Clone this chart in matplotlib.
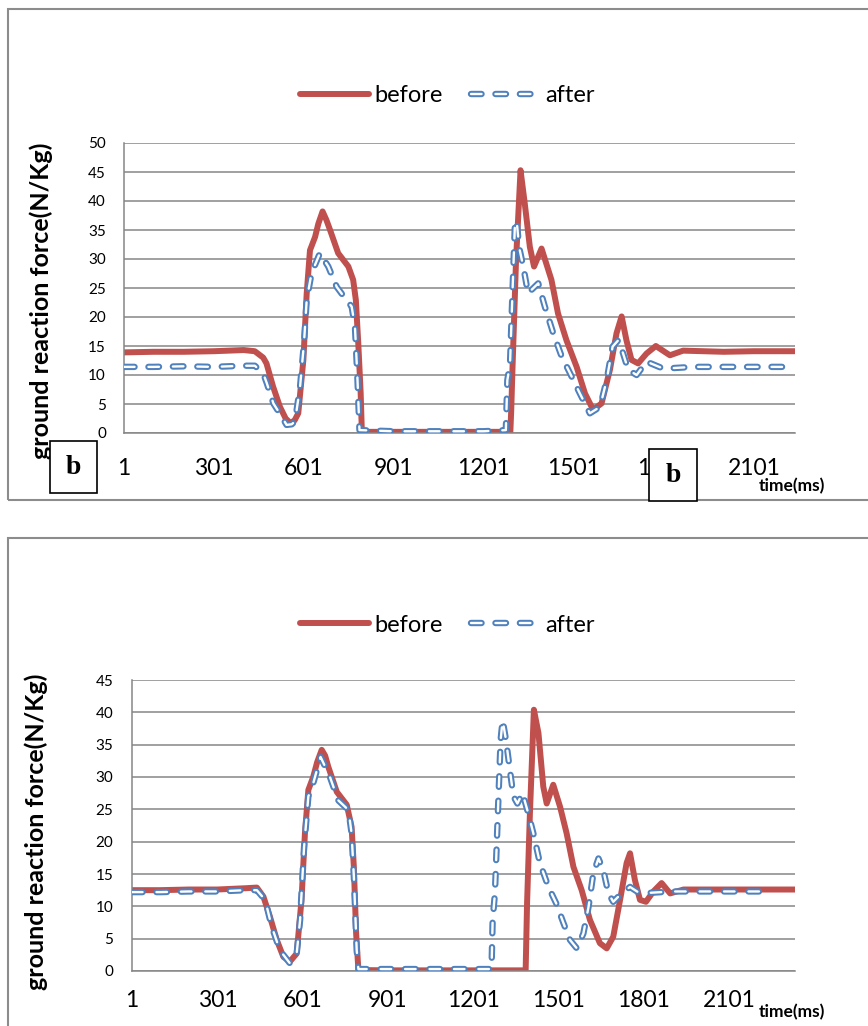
import matplotlib
matplotlib.use("Agg")
import matplotlib.pyplot as plt
from matplotlib.patches import Rectangle
from matplotlib.legend_handler import HandlerTuple

plt.rcParams['font.family'] = ['Lato', 'DejaVu Sans']
plt.rcParams['lines.scale_dashes'] = False

# ---------------- data ----------------
x_tick_values = [1, 301, 601, 901, 1201, 1501, 1801, 2101]
x_tick_labels = [str(v) for v in x_tick_values]
series_labels = ["before", "after"]

# Panel 1 (upper)
p1_n = 2238
p1_before_t = [1, 100, 200, 300, 400, 437, 465, 476, 498, 521, 540, 556, 570, 582, 599, 610, 621, 638, 649,
               663, 676, 688, 715, 749, 765, 774, 782, 790, 794, 900, 1000, 1100, 1200, 1289, 1292, 1296,
               1308, 1323, 1337, 1354, 1368, 1393, 1426, 1448, 1476, 1510, 1538, 1565, 1593, 1621, 1643,
               1660, 1676, 1693, 1715, 1743, 1774, 1821, 1865, 2000, 2100, 2237]
p1_before_v = [13.9, 14.0, 14.0, 14.1, 14.3, 14.1, 13.0, 12.0, 8.0, 4.5, 2.5, 1.7, 2.2, 3.4, 12.6, 24.0,
               31.5, 33.8, 36.1, 38.2, 36.7, 35.0, 31.0, 28.7, 26.4, 22.9, 15.5, 6.9, 0.2, 0.2, 0.2, 0.2,
               0.2, 0.2, 4.0, 10.9, 29.8, 45.3, 39.6, 32.1, 28.7, 31.8, 26.4, 20.6, 16.0, 11.4, 6.8, 4.0,
               5.1, 10.9, 17.2, 20.1, 16.0, 12.6, 12.0, 13.7, 15.0, 13.4, 14.2, 14.0, 14.1, 14.1]
p1_after_t = [1, 100, 200, 300, 400, 437, 465, 477, 499, 527, 543, 560, 571, 588, 601, 610, 626, 654, 682,
              710, 743, 760, 771, 779, 786, 900, 1000, 1100, 1200, 1274, 1279, 1288, 1296, 1304, 1310, 1318,
              1332, 1348, 1382, 1404, 1432, 1460, 1488, 1521, 1554, 1588, 1610, 1630, 1649, 1665, 1682, 1710,
              1743, 1799, 1900, 2000, 2100, 2230]
p1_after_v = [11.4, 11.4, 11.5, 11.4, 11.6, 11.6, 10.3, 8.6, 5.1, 2.8, 1.4, 1.5, 2.0, 8.0, 15.5, 22.9, 27.5,
              31.0, 28.7, 25.2, 22.9, 21.8, 18.3, 9.7, 0.5, 0.3, 0.3, 0.3, 0.3, 0.5, 9.1, 12.0, 24.1, 35.6,
              36.7, 32.1, 28.7, 24.1, 25.8, 21.8, 17.2, 13.2, 10.3, 6.8, 3.4, 4.5, 9.1, 14.9, 16.0, 13.7,
              10.9, 10.0, 12.3, 11.1, 11.4, 11.4, 11.4, 11.4]

# Panel 2 (lower)
p2_n = 2332
p2_before_t = [1, 100, 200, 300, 400, 440, 463, 486, 510, 533, 556, 580, 597, 609, 621, 638, 652, 668, 680,
               691, 721, 756, 773, 781, 789, 797, 900, 1000, 1100, 1200, 1300, 1385, 1390, 1400, 1414, 1430,
               1447, 1459, 1482, 1506, 1529, 1553, 1582, 1611, 1646, 1670, 1693, 1717, 1740, 1752, 1769,
               1787, 1808, 1834, 1863, 1893, 1940, 2100, 2332]
p2_before_v = [12.5, 12.5, 12.6, 12.6, 12.8, 12.9, 11.5, 8.4, 4.8, 2.2, 1.45, 2.7, 11.0, 21.3, 28.0, 30.0,
               32.3, 34.2, 33.3, 31.6, 27.7, 25.7, 22.3, 16.1, 5.8, 0.15, 0.1, 0.1, 0.1, 0.1, 0.1, 0.1,
               10.5, 24.4, 40.4, 36.8, 28.5, 25.9, 28.8, 25.4, 21.3, 16.1, 12.5, 7.9, 4.3, 3.5, 5.3, 11.0,
               16.7, 18.2, 14.1, 11.0, 10.7, 12.3, 13.6, 12.0, 12.6, 12.6, 12.6]
p2_after_t = [1, 100, 200, 300, 400, 440, 469, 492, 521, 556, 580, 592, 606, 621, 638, 664, 697, 726, 762,
              773, 781, 791, 797, 900, 1000, 1100, 1200, 1265, 1269, 1277, 1289, 1297, 1304, 1316, 1328,
              1342, 1356, 1374, 1394, 1412, 1435, 1465, 1492, 1518, 1541, 1565, 1588, 1606, 1623, 1641,
              1658, 1676, 1693, 1722, 1752, 1787, 1900, 2000, 2100, 2227]
p2_after_v = [12.2, 12.2, 12.3, 12.3, 12.5, 12.5, 11.0, 6.9, 3.2, 1.2, 2.7, 7.9, 19.2, 27.0, 29.0, 33.1,
              30.0, 26.4, 24.9, 21.3, 14.6, 3.2, 0.3, 0.3, 0.3, 0.3, 0.3, 0.3, 7.9, 12.0, 26.4, 35.7, 38.8,
              35.7, 31.6, 27.0, 25.9, 27.5, 24.4, 21.3, 16.7, 13.0, 10.5, 7.4, 4.8, 3.5, 5.8, 9.9, 15.1,
              17.4, 15.6, 12.0, 10.7, 12.0, 13.0, 12.0, 12.3, 12.3, 12.3, 12.3]

# ---------------- style ----------------
RED = '#C0504D'
BLUE = '#4F81BD'
GRID = '#868686'
FRAME = '#8c8c8c'
W, H = 868, 1026
DASH = (7.6, 10.0)

fig = plt.figure(figsize=(W / 100, H / 100), dpi=100)


def fx(px):
    return px / W


def fy(py):
    return 1 - py / H


def panel(rect_px, n, ymax, bt, bv, at, av, legend_y, ylabel_xy, time_xy, xpad, ypad):
    l, t, r, b = rect_px
    ax = fig.add_axes([fx(l), fy(b), (r - l) / W, (b - t) / H])
    red, = ax.plot(bt, bv, color=RED, lw=4.3, solid_capstyle='round', solid_joinstyle='round', zorder=2)
    blue, = ax.plot(at, av, color=BLUE, lw=4.6, dashes=DASH, dash_capstyle='round',
                    dash_joinstyle='round', zorder=3)
    white, = ax.plot(at, av, color='white', lw=1.7, dashes=DASH, dash_capstyle='round',
                     dash_joinstyle='round', zorder=4)
    ax.set_xlim(1, n)
    ax.set_ylim(0, ymax)
    ax.set_yticks(list(range(0, ymax + 1, 5)))
    ax.set_xticks(x_tick_values)
    ax.set_xticklabels(x_tick_labels)
    ax.yaxis.grid(True, color=GRID, lw=1.1)
    ax.set_axisbelow(True)
    for s in ('top', 'right'):
        ax.spines[s].set_visible(False)
    for s in ('left', 'bottom'):
        ax.spines[s].set_color(GRID)
        ax.spines[s].set_linewidth(1.1)
    ax.tick_params(axis='x', length=0, labelsize=16.5, pad=xpad, colors='black')
    ax.tick_params(axis='y', length=0, labelsize=11, pad=ypad, colors='black')
    ax.set_ylabel("ground reaction force(N/Kg)", fontsize=18, fontweight='bold')
    ax.yaxis.label.set_va('center')
    ax.yaxis.set_label_coords(fx(ylabel_xy[0]), fy(ylabel_xy[1]), transform=fig.transFigure)
    fig.text(fx(time_xy[0]), fy(time_xy[1]), "time(ms)", fontsize=12.5, fontweight='bold',
             ha='center', va='center')
    ax.legend([red, (blue, white)], series_labels, handler_map={tuple: HandlerTuple(ndivide=1)},
              loc='center', bbox_to_anchor=(fx(447), fy(legend_y)), bbox_transform=fig.transFigure,
              ncol=2, frameon=False, fontsize=17, handlelength=2.95, handletextpad=0.2,
              columnspacing=1.2)
    return ax


# outer frames
fig.add_artist(Rectangle((fx(8), fy(500)), (W + 10 - 8) / W, (500 - 9) / H, transform=fig.transFigure,
                         fill=False, edgecolor=FRAME, lw=1.5))
fig.add_artist(Rectangle((fx(8), fy(H + 10)), (W + 10 - 8) / W, (H + 10 - 538) / H,
                         transform=fig.transFigure, fill=False, edgecolor=FRAME, lw=1.5))

panel((124, 143, 795, 433), p1_n, 50, p1_before_t, p1_before_v, p1_after_t, p1_after_v,
      96, (41, 301), (792, 486), 18, 13)
panel((132, 680, 795, 971), p2_n, 45, p2_before_t, p2_before_v, p2_after_t, p2_after_v,
      625, (36, 832), (792, 1012), 13.5, 13.5)

# "b" boxes
for (x0, y0, x1, y1) in [(50, 441, 97, 493), (649, 449, 697, 501)]:
    fig.add_artist(Rectangle((fx(x0), fy(y1)), (x1 - x0) / W, (y1 - y0) / H, transform=fig.transFigure,
                             facecolor='white', edgecolor='black', lw=1.2, zorder=10))
    fig.text(fx((x0 + x1) / 2), fy((y0 + y1) / 2 + 1), "b", family='Liberation Serif', fontweight='bold',
             fontsize=20, ha='center', va='center', zorder=11)

fig.savefig("out.png", dpi=100)
